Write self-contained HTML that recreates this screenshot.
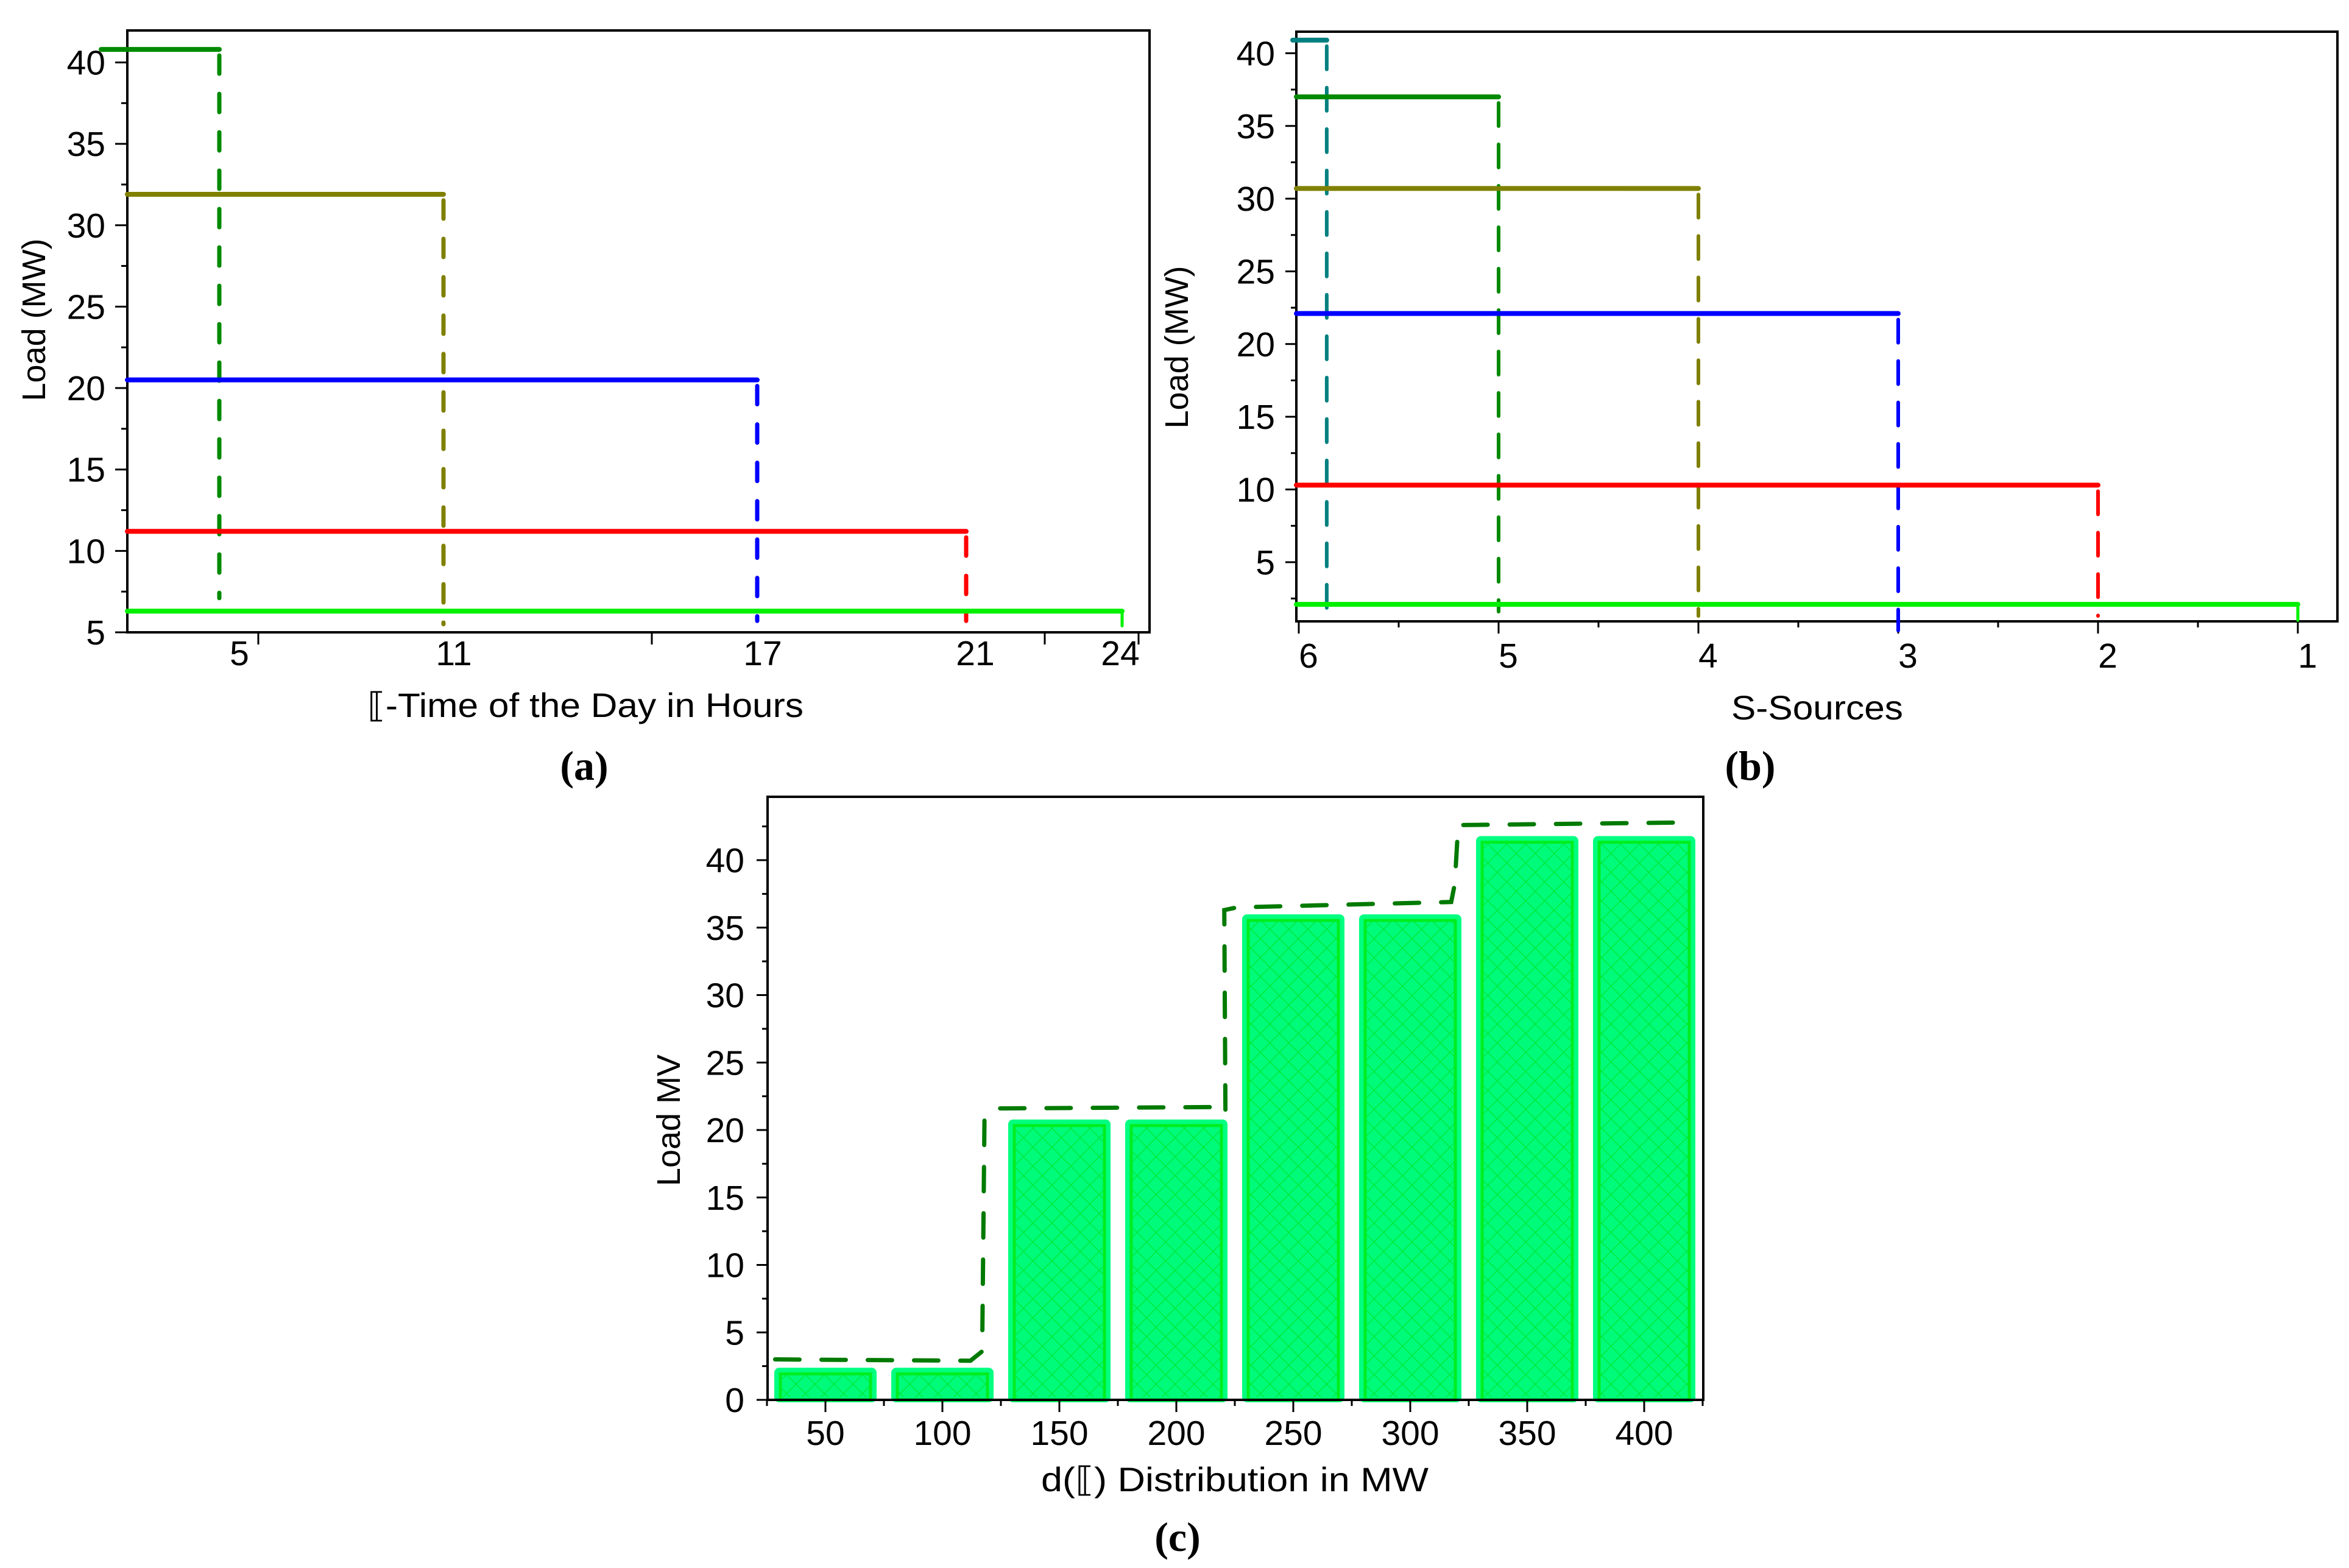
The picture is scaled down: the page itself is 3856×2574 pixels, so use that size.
<!DOCTYPE html>
<html><head><meta charset="utf-8"><style>
html,body{margin:0;padding:0;background:#fff;}
svg{display:block;font-family:"Liberation Sans",sans-serif;}
</style></head><body>
<svg id="fig" width="3856" height="2574" viewBox="0 0 3856 2574" xmlns="http://www.w3.org/2000/svg">
<defs>
<pattern id="hatch" width="22" height="22" patternUnits="userSpaceOnUse" patternTransform="rotate(45)">
<rect width="22" height="22" fill="#00fa7a"/>
<line x1="0" y1="0" x2="0" y2="22" stroke="#00e830" stroke-width="2.5"/>
<line x1="0" y1="0" x2="22" y2="0" stroke="#00e830" stroke-width="2.5"/>
</pattern>
</defs>
<g id="pa"></g>
<g id="pb"></g>
<g id="pc"></g>
</svg>
<script>
// ---- Panel (a) data ----
const aLevels = [40.8, 31.9, 20.5, 11.2, 6.3];
const aEnds = [5, 11, 17, 21, 24];
const aDropTo = [7.1, 5.5, 5.7, 5.7, 5.4];
const aColors = ['#008a00', '#808000', '#0000ff', '#ff0000', '#00f000'];
const aXTicks = [5, 11, 17, 21, 24];
const aYTicks = [5, 10, 15, 20, 25, 30, 35, 40];
// ---- Panel (b) data ----
const bLevels = [40.9, 37.0, 30.7, 22.1, 10.3, 2.1];
const bEnds = [5.86, 5, 4, 3, 2, 1];
const bDropTo = [1.2, 1.6, 1.3, 0.3, 1.3, 1.0];
const bColors = ['#008080', '#008a00', '#808000', '#0000ff', '#ff0000', '#00f000'];
const bXTicks = [6, 5, 4, 3, 2, 1];
const bYTicks = [5, 10, 15, 20, 25, 30, 35, 40];
// ---- Panel (c) data ----
const cCategories = ['50', '100', '150', '200', '250', '300', '350', '400'];
const cValues = [2.2, 2.2, 20.6, 20.6, 35.8, 35.8, 41.6, 41.6];
const cDashX = [-0.43, 1.24, 1.34, 1.36, 1.48, 3.33, 3.42, 3.41, 3.52, 5.35, 5.38, 5.41, 7.43];
const cDashY = [3.0, 2.9, 3.6, 21.0, 21.6, 21.7, 21.2, 36.3, 36.5, 36.9, 38.2, 42.6, 42.8];
const cYTicks = [0, 5, 10, 15, 20, 25, 30, 35, 40];

const NS = 'http://www.w3.org/2000/svg';
function mk(parent, tag, attrs, text) {
  const e = document.createElementNS(NS, tag);
  for (const k in attrs) e.setAttribute(k, attrs[k]);
  if (text !== undefined) e.textContent = text;
  parent.appendChild(e);
  return e;
}
function frame(g, L, R, T, B) {
  const r = mk(g, 'rect', {x: L, y: T, width: R - L, height: B - T, fill: 'none', stroke: '#000', 'stroke-width': 4});
  
  
}

// ===== Panel A =====
(function () {
  const g = document.getElementById('pa');
  const L = 209, R = 1887, T = 50, B = 1038;
  const ya = v => B - (v - 5) * 26.73;
  const hA = [0, 5, 11, 17, 21, 24], pA = [209, 360, 728, 1243, 1586, 1842];
  const nudge = [33, 17, 9, 15, -3];
  const xa = h => { for (let i = 1; i < hA.length; i++) { if (h <= hA[i]) { const t = (h - hA[i-1]) / (hA[i] - hA[i-1]); return pA[i-1] + t * (pA[i] - pA[i-1]); } } return pA[pA.length-1]; };
  frame(g, L, R, T, B);
  for (let v = 5; v <= 40; v += 2.5) {
    const major = v % 5 === 0;
    const t = mk(g, 'line', {x1: L - (major ? 20 : 10), x2: L, y1: ya(v), y2: ya(v), stroke: '#000', 'stroke-width': 3});
    
    
  }
  aYTicks.forEach(v => {
    const t = mk(g, 'text', {x: 173, y: ya(v) + 20, 'font-size': 57, 'text-anchor': 'end'}, String(v));
    
    
  });
  [424, 1070, 1715, 1869].forEach(px => {
    const t = mk(g, 'line', {x1: px, x2: px, y1: B, y2: B + 20, stroke: '#000', 'stroke-width': 3});
    
    
  });
  aXTicks.forEach((h, i) => {
    const t = mk(g, 'text', {x: xa(h) + nudge[i], y: 1092, 'font-size': 57, 'text-anchor': 'middle'}, String(h));
    
    
  });
  aLevels.forEach((lv, i) => {
    const x0 = i === 0 ? L - 43 : L;
    const h = mk(g, 'line', {x1: x0, x2: xa(aEnds[i]), y1: ya(lv), y2: ya(lv), stroke: aColors[i], 'stroke-width': 8, 'stroke-linecap': 'round'});
    
    
    const last = i === aLevels.length - 1;
    const d = mk(g, 'line', {x1: xa(aEnds[i]), x2: xa(aEnds[i]), y1: ya(lv) + (last ? 0 : 10), y2: ya(aDropTo[i]), stroke: aColors[i], 'stroke-width': last ? 5 : 7, 'stroke-linecap': 'round', 'stroke-dasharray': last ? 'none' : '30 33'});
    
    
  });
  const yl = mk(g, 'text', {x: 0, y: 0, 'font-size': 54, 'text-anchor': 'middle', transform: 'translate(74,525) rotate(-90)'}, 'Load (MW)');
  
  
  const xl = mk(g, 'text', {x: 961, y: 1177, 'font-size': 56, 'text-anchor': 'middle', textLength: 716, lengthAdjust: 'spacingAndGlyphs'}, '⟦-Time of the Day in Hours');
  
  
  const cap = mk(g, 'text', {x: 959, y: 1280, 'font-size': 68, 'font-weight': 'bold', 'text-anchor': 'middle', 'font-family': 'Liberation Serif, serif'}, '(a)');
  
  
})();

// ===== Panel B =====
(function () {
  const g = document.getElementById('pb');
  const L = 2128, R = 3837, T = 52, B = 1020;
  const xb = s => 2132 + (6 - s) * 328;
  const yb = v => 1042.2 - v * 23.87;
  frame(g, L, R, T, B);
  for (let v = 2.5; v <= 40; v += 2.5) {
    const major = v % 5 === 0;
    const t = mk(g, 'line', {x1: L - (major ? 18 : 9), x2: L, y1: yb(v), y2: yb(v), stroke: '#000', 'stroke-width': 3});
    
    
  }
  bYTicks.forEach(v => {
    const t = mk(g, 'text', {x: 2093, y: yb(v) + 20, 'font-size': 57, 'text-anchor': 'end'}, String(v));
    
    
  });
  for (let s = 6; s >= 1; s -= 0.5) {
    const major = s % 1 === 0;
    const t = mk(g, 'line', {x1: xb(s), x2: xb(s), y1: B, y2: B + (major ? 20 : 10), stroke: '#000', 'stroke-width': 3});
    
    
  }
  bXTicks.forEach(s => {
    const t = mk(g, 'text', {x: xb(s) + 16, y: 1096, 'font-size': 57, 'text-anchor': 'middle'}, String(s));
    
    
  });
  bLevels.forEach((lv, i) => {
    const x0 = i === 0 ? L - 6 : L;
    const h = mk(g, 'line', {x1: x0, x2: xb(bEnds[i]), y1: yb(lv), y2: yb(lv), stroke: bColors[i], 'stroke-width': 8, 'stroke-linecap': 'round'});
    
    
    const last = i === bLevels.length - 1;
    const d = mk(g, 'line', {x1: xb(bEnds[i]), x2: xb(bEnds[i]), y1: yb(lv) + (last ? 0 : 10), y2: yb(bDropTo[i]), stroke: bColors[i], 'stroke-width': last ? 5 : 6, 'stroke-linecap': 'round', 'stroke-dasharray': last ? 'none' : '38 30'});
    
    
  });
  const yl = mk(g, 'text', {x: 0, y: 0, 'font-size': 54, 'text-anchor': 'middle', transform: 'translate(1950,570) rotate(-90)'}, 'Load (MW)');
  
  
  const xl = mk(g, 'text', {x: 2983, y: 1181, 'font-size': 56, 'text-anchor': 'middle', textLength: 282, lengthAdjust: 'spacingAndGlyphs'}, 'S-Sources');
  
  
  const cap = mk(g, 'text', {x: 2873, y: 1280, 'font-size': 68, 'font-weight': 'bold', 'text-anchor': 'middle', 'font-family': 'Liberation Serif, serif'}, '(b)');
  
  
})();

// ===== Panel C =====
(function () {
  const g = document.getElementById('pc');
  const L = 1260, R = 2796, T = 1308, B = 2298;
  const xc = i => 1355 + i * 192;
  const yc = v => B - v * 22.15;
  const bw = 160;
  cValues.forEach((v, i) => {
    const r = mk(g, 'rect', {x: xc(i) - bw / 2, y: yc(v), width: bw, height: B - yc(v), fill: 'url(#hatch)', stroke: '#00ff80', 'stroke-width': 8, rx: 4});
    
    
    const r2 = mk(g, 'rect', {x: xc(i) - bw / 2 + 6, y: yc(v) + 6, width: bw - 12, height: B - yc(v) - 6, fill: 'none', stroke: '#00ee20', 'stroke-width': 5});
    
    
  });
  frame(g, L, R, T, B);
  for (let v = 0; v <= 42.5; v += 2.5) {
    const major = v % 5 === 0;
    const t = mk(g, 'line', {x1: L - (major ? 18 : 9), x2: L, y1: yc(v), y2: yc(v), stroke: '#000', 'stroke-width': 3});
    
    
  }
  cYTicks.forEach(v => {
    const t = mk(g, 'text', {x: 1222, y: yc(v) + 20, 'font-size': 57, 'text-anchor': 'end'}, String(v));
    
    
  });
  for (let k = -0.5; k <= cCategories.length - 0.5; k += 0.5) {
    const major = k % 1 === 0;
    const t = mk(g, 'line', {x1: xc(k), x2: xc(k), y1: B, y2: B + (major ? 20 : 10), stroke: '#000', 'stroke-width': 3});
    
    
  }
  cCategories.forEach((c, i) => {
    const t = mk(g, 'text', {x: xc(i), y: 2372, 'font-size': 57, 'text-anchor': 'middle'}, c);
    
    
  });
  const pts = cDashX.map((x, i) => xc(x) + ',' + yc(cDashY[i])).join(' ');
  const pl = mk(g, 'polyline', {points: pts, fill: 'none', stroke: '#007a00', 'stroke-width': 7, 'stroke-linecap': 'round', 'stroke-dasharray': '40 36'});
  
  
  const yl = mk(g, 'text', {x: 0, y: 0, 'font-size': 54, 'text-anchor': 'middle', transform: 'translate(1116,1839) rotate(-90)'}, 'Load MV');
  
  
  const xl = mk(g, 'text', {x: 2027, y: 2448, 'font-size': 56, 'text-anchor': 'middle', textLength: 636, lengthAdjust: 'spacingAndGlyphs'}, 'd(⟦) Distribution in MW');
  
  
  const cap = mk(g, 'text', {x: 1933, y: 2546, 'font-size': 68, 'font-weight': 'bold', 'text-anchor': 'middle', 'font-family': 'Liberation Serif, serif'}, '(c)');
  
  
})();
</script>
</body></html>
